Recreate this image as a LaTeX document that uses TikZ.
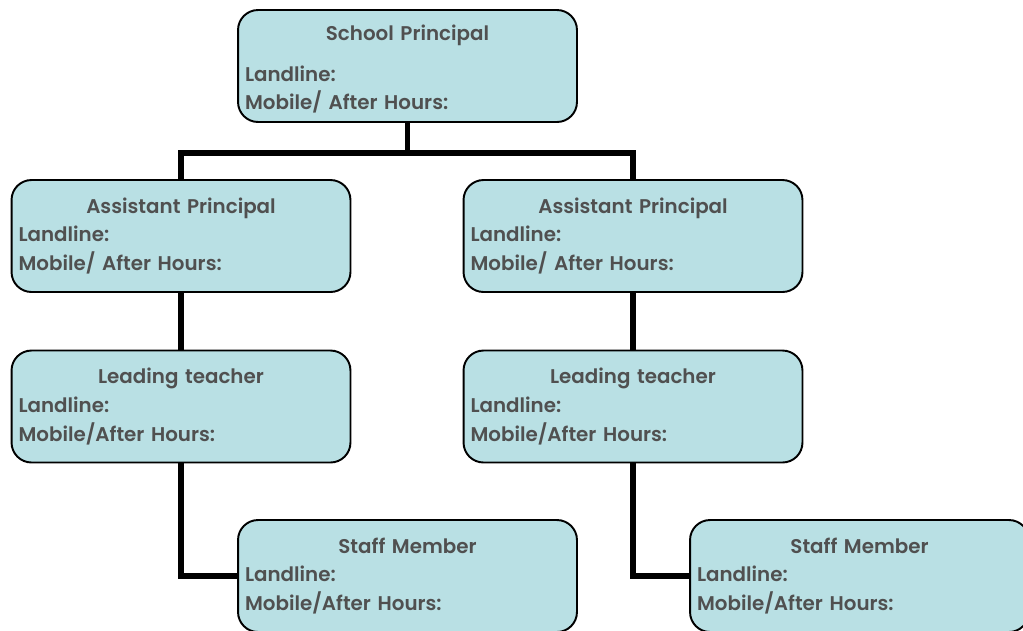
\documentclass[tikz,border=0pt]{standalone}
\usepackage{fontspec}
\setmainfont{Poppins}[BoldFont={Poppins SemiBold}]
\usepackage{xcolor}
\definecolor{cardfill}{HTML}{B9E0E4}
\definecolor{cardtext}{HTML}{505050}
\newcommand{\cardhead}[1]{\makebox[\linewidth][c]{#1}}

\begin{document}
\begin{tikzpicture}
  [x=0.02cm, y=-0.02cm,
   card/.style={draw=black, line width=1.1pt, fill=cardfill, rounded corners=0.4cm,
     text width=6.5cm, inner xsep=0.14cm, minimum height=2.24cm, align=left,
     text=cardtext, font=\bfseries\fontsize{11.3}{16.4}\selectfont},
   link/.style={line width=3.3pt}]
  \useasboundingbox (0,0) rectangle (1023,630);
  \node[card] (prin) at (407.5,66) {\cardhead{School Principal}\\[7pt]Landline:\\Mobile/ After Hours:\vspace{-3.4pt}};
  \node[card] (ap1) at (181,236) {\cardhead{Assistant Principal}\\Landline:\\Mobile/ After Hours:};
  \node[card] (ap2) at (633,236) {\cardhead{Assistant Principal}\\Landline:\\Mobile/ After Hours:};
  \node[card] (lt1) at (181,406.5) {\cardhead{Leading teacher}\\Landline:\\Mobile/After Hours:};
  \node[card] (lt2) at (633,406.5) {\cardhead{Leading teacher}\\Landline:\\Mobile/After Hours:};
  \node[card] (sm1) at (407.5,576) {\cardhead{Staff Member}\\Landline:\\Mobile/After Hours:};
  \node[card] (sm2) at (859.5,576) {\cardhead{Staff Member}\\Landline:\\Mobile/After Hours:};
  \draw[link] (prin.south) -- ++(0,30) -| (ap1.north);
  \draw[link] (prin.south) -- ++(0,30) -| (ap2.north);
  \draw[link] (ap1.south) -- (lt1.north);
  \draw[link] (ap2.south) -- (lt2.north);
  \draw[link] (lt1.south) |- (sm1.west);
  \draw[link] (lt2.south) |- (sm2.west);
\end{tikzpicture}
\end{document}
